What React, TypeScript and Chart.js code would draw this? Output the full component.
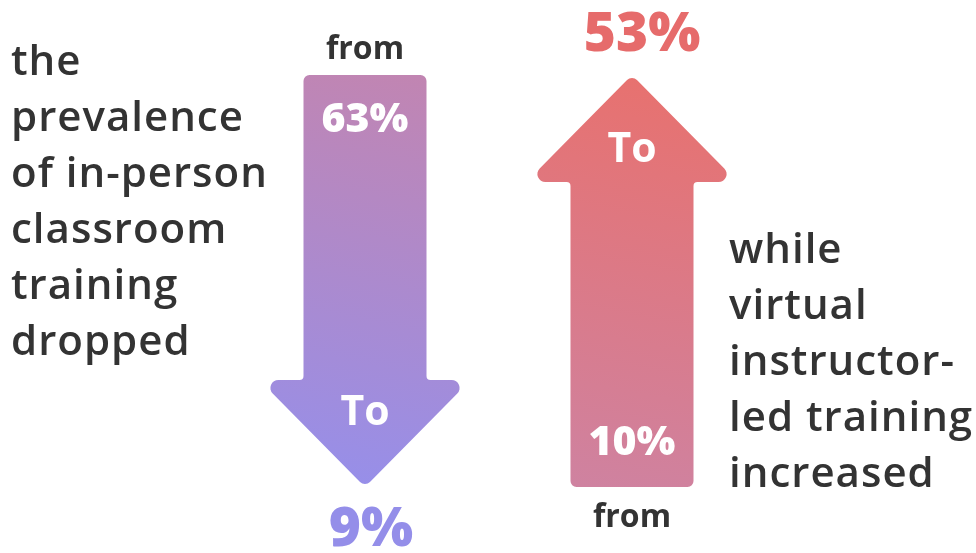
import React, { useEffect, useRef } from "react";
import { Chart, registerables } from "chart.js";
Chart.register(...registerables);

const categories = ["In-person classroom training", "Virtual instructor-led training"];
const fromValues = [63, 10];
const toValues = [9, 53];
const arrowSpan: [number, number][] = [[0, 100], [0, 100]];
const fromWord = "from";
const toWord = "To";
const leftCaption = ["the", "prevalence", "of in-person", "classroom", "training", "dropped"];
const rightCaption = ["while", "virtual", "instructor-", "led training", "increased"];
const gradientTop = ["#c185b2", "#e8716e"];
const gradientBottom = ["#968fea", "#cf82a0"];
const toValueColors = ["#948ee9", "#e66b6b"];

const FONT = "'Open Sans', 'Noto Sans', sans-serif";

function roundedPoly(ctx: CanvasRenderingContext2D, pts: number[][], radii: number[]) {
  const n = pts.length;
  const last = pts[n - 1];
  const first = pts[0];
  ctx.beginPath();
  ctx.moveTo((last[0] + first[0]) / 2, (last[1] + first[1]) / 2);
  for (let i = 0; i < n; i++) {
    const p = pts[i];
    const q = pts[(i + 1) % n];
    ctx.arcTo(p[0], p[1], q[0], q[1], radii[i]);
  }
  ctx.closePath();
}

const arrowPlugin = {
  id: "arrows",
  afterDatasetsDraw(chart: any) {
    const ctx: CanvasRenderingContext2D = chart.ctx;
    const meta = chart.getDatasetMeta(0);
    meta.data.forEach((bar: any, i: number) => {
      const { x, y, base, width } = bar.getProps(["x", "y", "base", "width"], true);
      const top = Math.min(y, base);
      const bottom = Math.max(y, base);
      const sw = width / 2;
      const hw = width * 0.86;
      const hh = width * 0.87;
      const down = fromValues[i] > toValues[i];
      let pts: number[][];
      let radii: number[];
      if (down) {
        const wy = bottom - hh;
        pts = [
          [x - sw, top], [x + sw, top], [x + sw, wy], [x + hw, wy],
          [x, bottom], [x - hw, wy], [x - sw, wy],
        ];
        radii = [6, 6, 4, 8, 7, 8, 4];
      } else {
        const wy = top + hh;
        pts = [
          [x, top], [x + hw, wy], [x + sw, wy], [x + sw, bottom],
          [x - sw, bottom], [x - sw, wy], [x - hw, wy],
        ];
        radii = [7, 8, 4, 6, 6, 4, 8];
      }
      const g = ctx.createLinearGradient(x + 40, top, x - 40, bottom);
      g.addColorStop(0, gradientTop[i]);
      g.addColorStop(1, gradientBottom[i]);
      ctx.save();
      roundedPoly(ctx, pts, radii);
      ctx.fillStyle = g;
      ctx.fill();

      ctx.textAlign = "center";
      ctx.textBaseline = "middle";
      const fromTxt = fromValues[i] + "%";
      const toTxt = toValues[i] + "%";
      if (down) {
        const wy = bottom - hh;
        ctx.fillStyle = "#333333";
        ctx.font = `700 32px ${FONT}`;
        ctx.fillText(fromWord, x, top - 25);
        ctx.fillStyle = "#ffffff";
        ctx.font = `800 41px ${FONT}`;
        ctx.fillText(fromTxt, x, top + 45);
        ctx.font = `700 41px ${FONT}`;
        ctx.fillText(toWord, x, wy + 33);
        ctx.fillStyle = toValueColors[i];
        ctx.font = `800 55px ${FONT}`;
        ctx.fillText(toTxt, x + 6, bottom + 43);
      } else {
        const wy = top + hh;
        ctx.fillStyle = toValueColors[i];
        ctx.font = `800 55px ${FONT}`;
        ctx.fillText(toTxt, x + 10, top - 40);
        ctx.fillStyle = "#ffffff";
        ctx.font = `700 41px ${FONT}`;
        ctx.fillText(toWord, x, wy - 32);
        ctx.font = `800 41px ${FONT}`;
        ctx.fillText(fromTxt, x, bottom - 44);
        ctx.fillStyle = "#333333";
        ctx.font = `700 32px ${FONT}`;
        ctx.fillText(fromWord, x, bottom + 31);
      }
      ctx.restore();
    });
  },
};

export default function App() {
  const ref = useRef<HTMLCanvasElement>(null);
  useEffect(() => {
    if (!ref.current) return;
    const chart = new Chart(ref.current, {
      type: "bar",
      data: {
        labels: categories,
        datasets: [
          {
            data: arrowSpan as any,
            backgroundColor: "rgba(0,0,0,0)",
            borderWidth: 0,
            barPercentage: 0.4607,
            categoryPercentage: 1,
          },
        ],
      },
      options: {
        animation: false,
        responsive: false,
        layout: { padding: { left: 231.5, right: 210.5, top: 75, bottom: 66 } },
        plugins: { legend: { display: false }, tooltip: { enabled: false } },
        scales: {
          x: { display: false },
          y: { display: false, min: 0, max: 100 },
        },
      },
      plugins: [arrowPlugin],
    });
    return () => chart.destroy();
  }, []);

  const para: React.CSSProperties = {
    position: "absolute",
    fontFamily: FONT,
    fontWeight: 600,
    fontSize: 42,
    letterSpacing: "1px",
    lineHeight: "56px",
    color: "#333333",
    whiteSpace: "nowrap",
  };

  return (
    <div style={{ position: "absolute", left: 0, top: 0, width: 976, height: 553, background: "#ffffff" }}>
      <canvas ref={ref} width={976} height={553} style={{ position: "absolute", left: 0, top: 0 }} />
      <div style={{ ...para, left: 11, top: 31 }}>
        {leftCaption.map((l, i) => (
          <div key={i}>{l}</div>
        ))}
      </div>
      <div style={{ ...para, left: 729, top: 219 }}>
        {rightCaption.map((l, i) => (
          <div key={i}>{l}</div>
        ))}
      </div>
    </div>
  );
}
